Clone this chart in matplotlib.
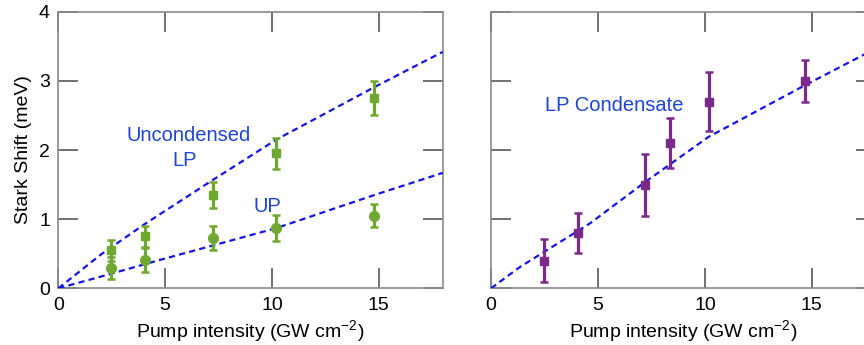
import numpy as np
import matplotlib
matplotlib.use('Agg')
import matplotlib.pyplot as plt

plt.rcParams['font.family'] = ['Liberation Sans', 'DejaVu Sans']
plt.rcParams['mathtext.fontset'] = 'custom'
plt.rcParams['mathtext.rm'] = 'Liberation Sans'
plt.rcParams['mathtext.it'] = 'Liberation Sans'

# left panel: uncondensed LP (squares) and UP (circles)
lp_x = [2.45, 4.05, 7.24, 10.2, 14.8]
lp_y = [0.55, 0.75, 1.35, 1.95, 2.75]
lp_err = [0.15, 0.15, 0.19, 0.23, 0.25]

up_x = [2.45, 4.05, 7.24, 10.2, 14.8]
up_y = [0.30, 0.41, 0.73, 0.87, 1.05]
up_err = [0.16, 0.18, 0.17, 0.19, 0.17]

# dashed fit curves
fit_lp_x = [0, 2.0, 4.0, 7.2, 10.2, 14.8, 18]
fit_lp_y = [0, 0.49, 0.92, 1.56, 2.15, 2.91, 3.42]
fit_up_x = [0, 2.0, 4.75, 7.24, 10.2, 14.8, 18]
fit_up_y = [0, 0.17, 0.41, 0.62, 0.87, 1.35, 1.67]

# right panel: LP condensate
cond_x = [2.48, 4.05, 7.22, 8.35, 10.17, 14.7]
cond_y = [0.40, 0.80, 1.49, 2.10, 2.70, 3.00]
cond_err = [0.31, 0.29, 0.45, 0.36, 0.43, 0.30]

fit_cond_x = [0, 1.36, 4.63, 7.22, 10.17, 14.7, 18]
fit_cond_y = [0, 0.31, 0.94, 1.54, 2.19, 2.94, 3.47]

green = '#6fa830'
purple = '#7b2a8b'
blue = '#1414e6'
txt_blue = '#1d44d4'

fig = plt.figure(figsize=(8.64, 3.45), dpi=100)
ax1 = fig.add_axes([0.0675, 0.1643, 0.445, 0.8017])
ax2 = fig.add_axes([0.5683, 0.1643, 0.4456, 0.8017])


def style(ax, show_y):
	ax.set_xlim(0, 18)
	ax.set_ylim(0, 4)
	ax.set_xticks([0, 5, 10, 15])
	ax.set_yticks([0, 1, 2, 3, 4])
	ax.tick_params(direction='in', length=14.4, width=1.1, color='#4a4a4a',
				   top=True, right=True, labelsize=14, pad=6, labelleft=show_y)
	for s in ax.spines.values():
		s.set_color('#8a8a8a')
		s.set_linewidth(1.2)
	ax.set_xlabel('Pump intensity (GW cm$^{-2}$)', fontsize=14, labelpad=3)


dash = dict(color=blue, lw=1.6, ls=(0, (2.8, 1.9)), zorder=3)
ebar = dict(lw=2.3, capsize=2.6, capthick=1.8, zorder=4)

ax1.plot(fit_lp_x, fit_lp_y, **dash)
ax1.plot(fit_up_x, fit_up_y, **dash)
ax1.errorbar(lp_x, lp_y, yerr=lp_err, fmt='s', ms=6, color=green, **ebar)
ax1.errorbar(up_x, up_y, yerr=up_err, fmt='o', ms=7, color=green, **ebar)
ax1.text(6.12, 2.134, 'Uncondensed', color=txt_blue, fontsize=14.5, ha='center', va='baseline')
ax1.text(5.9, 1.773, 'LP', color=txt_blue, fontsize=14.5, ha='center', va='baseline')
ax1.text(9.81, 1.099, 'UP', color=txt_blue, fontsize=14.5, ha='center', va='baseline')
style(ax1, True)
ax1.set_ylabel('Stark Shift (meV)', fontsize=14, labelpad=5)

ax2.plot(fit_cond_x, fit_cond_y, **dash)
ax2.errorbar(cond_x, cond_y, yerr=cond_err, fmt='s', ms=6, color=purple, **ebar)
ax2.text(5.77, 2.568, 'LP Condensate', color=txt_blue, fontsize=14.5, ha='center', va='baseline')
style(ax2, False)

fig.savefig('out.png', dpi=100)
